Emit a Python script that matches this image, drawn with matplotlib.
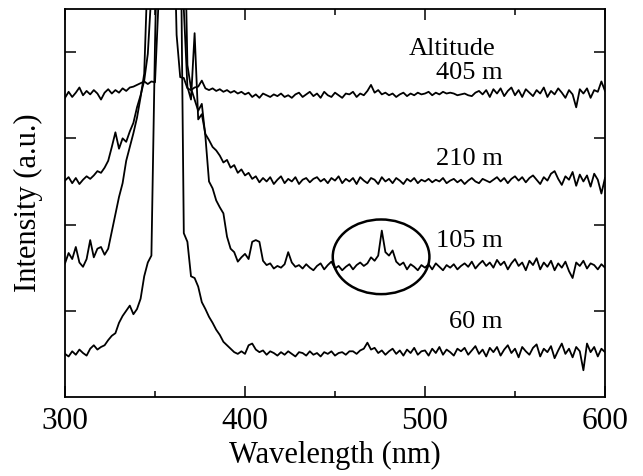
import numpy as np
import matplotlib
matplotlib.use("Agg")
import matplotlib.pyplot as plt
from matplotlib.patches import Ellipse

plt.rcParams['font.family'] = ['Liberation Serif', 'DejaVu Serif']

# wavelength grid, nm (2 nm step)
wavelength = np.arange(300, 601, 2)

# spectra above their own baseline, a.u. (values > top of axes are saturated)
alt_60m = [
    0.00, -0.03, 0.03, -0.01, 0.05, 0.01, -0.02, 0.06, 0.10, 0.05,
    0.08, 0.10, 0.16, 0.21, 0.24, 0.36, 0.44, 0.50, 0.56, 0.46,
    0.52, 0.64, 0.90, 1.06, 1.14, 3.60, 5.50, 5.50, 5.50, 5.50,
    5.50, 5.50, 5.50, 1.40, 1.30, 0.90, 0.88, 0.78, 0.60, 0.52,
    0.43, 0.36, 0.28, 0.22, 0.14, 0.10, 0.06, 0.02, 0.00, 0.03,
    0.00, 0.10, 0.12, 0.05, 0.02, 0.04, -0.01, 0.03, 0.01, -0.02,
    0.02, -0.01, 0.03, 0.00, -0.03, 0.02, 0.01, -0.02, 0.03, -0.01,
    0.01, -0.03, 0.02, 0.00, 0.03, -0.02, 0.01, 0.02, -0.01, 0.03,
    0.03, 0.00, 0.04, 0.06, 0.13, 0.05, 0.07, 0.01, 0.04, -0.01,
    0.03, 0.06, 0.00, 0.04, -0.02, 0.05, 0.01, 0.07, -0.01, 0.03,
    0.04, -0.02, 0.06, 0.01, 0.08, -0.01, 0.05, 0.02, -0.02, 0.06,
    0.03, 0.07, -0.01, 0.04, 0.09, 0.00, 0.05, -0.03, 0.07, 0.02,
    0.08, -0.02, 0.05, 0.10, 0.01, 0.06, -0.04, 0.08, 0.03, -0.01,
    0.07, 0.11, -0.03, 0.06, 0.02, 0.09, -0.05, 0.04, 0.12, 0.00,
    0.06, -0.04, 0.08, 0.03, -0.19, 0.12, 0.02, 0.08, -0.03, 0.06,
    0.02,
]

alt_105m = [
    0.05, 0.17, 0.10, 0.24, 0.06, 0.01, 0.10, 0.32, 0.12, 0.22,
    0.24, 0.15, 0.22, 0.42, 0.62, 0.82, 0.98, 1.24, 1.40, 1.56,
    1.74, 1.98, 2.25, 3.50, 4.50, 4.50, 4.50, 4.50, 4.50, 4.50,
    4.50, 4.50, 4.50, 4.50, 2.35, 2.08, 1.95, 1.82, 1.90, 1.52,
    1.00, 0.92, 0.78, 0.70, 0.63, 0.36, 0.22, 0.18, 0.07, 0.12,
    0.16, 0.10, 0.30, 0.32, 0.30, 0.08, 0.03, 0.05, -0.01, 0.02,
    0.00, 0.04, 0.18, 0.06, 0.01, 0.03, -0.01, 0.04, 0.00, -0.03,
    0.02, 0.05, -0.02, 0.03, 0.07, -0.01, 0.02, -0.03, 0.01, 0.04,
    -0.02, 0.03, 0.06, 0.02, 0.05, 0.12, 0.08, 0.14, 0.43, 0.18,
    0.14, 0.20, 0.07, 0.03, 0.06, -0.02, 0.04, 0.01, -0.03, 0.03,
    0.00, 0.04, -0.02, 0.05, 0.01, -0.03, 0.03, 0.00, 0.04, -0.02,
    0.02, 0.05, 0.01, 0.07, -0.01, 0.04, 0.08, 0.02, 0.06, 0.00,
    0.09, 0.03, 0.07, -0.02, 0.05, 0.10, 0.02, 0.06, -0.03, 0.08,
    0.03, 0.11, -0.02, 0.06, 0.01, 0.08, -0.03, 0.05, 0.00, 0.07,
    -0.04, -0.12, 0.06, 0.02, 0.08, -0.01, 0.05, 0.03, -0.02, 0.04,
    0.00,
]

alt_210m = [
    0.01, 0.05, -0.02, 0.04, -0.03, 0.02, 0.06, 0.03, 0.07, 0.12,
    0.10, 0.16, 0.24, 0.40, 0.57, 0.38, 0.50, 0.46, 0.58, 0.68,
    0.86, 1.00, 1.17, 1.48, 2.20, 3.50, 3.50, 3.50, 3.50, 3.50,
    3.50, 3.50, 3.50, 2.00, 1.10, 0.95, 1.72, 0.72, 0.78, 0.55,
    0.48, 0.40, 0.36, 0.30, 0.22, 0.25, 0.16, 0.19, 0.10, 0.14,
    0.07, 0.10, 0.03, 0.06, -0.01, 0.04, 0.00, 0.05, -0.03, 0.02,
    0.06, -0.02, 0.03, 0.00, 0.05, -0.03, 0.02, 0.04, -0.01, 0.03,
    0.05, 0.00, 0.03, -0.02, 0.04, 0.01, 0.06, -0.02, 0.03, 0.00,
    0.04, -0.03, 0.05, 0.01, -0.02, 0.04, 0.02, -0.03, 0.05, 0.00,
    0.03, -0.02, 0.04, 0.01, -0.03, 0.03, 0.00, 0.04, -0.02, 0.02,
    0.00, 0.03, -0.01, 0.02, 0.00, 0.04, -0.02, 0.01, 0.03, -0.01,
    0.02, -0.03, 0.01, 0.04, 0.00, -0.02, 0.03, 0.01, -0.01, 0.02,
    0.05, 0.00, 0.04, -0.02, 0.03, 0.06, 0.01, 0.05, -0.01, 0.04,
    0.07, 0.02, -0.03, 0.05, 0.01, 0.09, 0.12, 0.03, -0.04, 0.06,
    0.02, 0.11, -0.05, 0.08, 0.00, 0.07, -0.06, 0.09, 0.02, -0.14,
    0.04,
]

alt_405m = [
    -0.03, 0.04, -0.02, 0.03, 0.09, 0.00, 0.05, 0.01, 0.06, 0.02,
    -0.05, 0.03, 0.07, 0.02, 0.06, 0.03, 0.08, 0.05, 0.09, 0.10,
    0.12, 0.14, 0.16, 0.13, 0.16, 0.15, 1.10, 2.50, 2.50, 2.50,
    2.50, 0.70, 0.21, 0.20, 0.08, 0.06, 0.09, 0.10, 0.17, 0.08,
    0.06, 0.08, 0.05, 0.07, 0.04, 0.06, 0.03, 0.05, 0.02, 0.04,
    0.01, 0.03, -0.02, 0.01, -0.03, 0.02, 0.00, -0.02, 0.01, -0.01,
    0.02, -0.02, 0.00, -0.03, 0.01, 0.03, -0.02, 0.01, 0.04, -0.01,
    0.02, -0.03, 0.04, 0.00, -0.02, 0.03, 0.00, -0.03, 0.02, 0.01,
    0.04, -0.02, 0.02, 0.00, 0.05, 0.12, 0.03, 0.06, 0.01, 0.03,
    0.00, 0.02, -0.02, 0.01, 0.03, -0.01, 0.02, 0.00, 0.03, 0.01,
    0.02, 0.04, 0.00, 0.03, 0.01, 0.04, 0.02, 0.03, 0.02, 0.00,
    0.01, 0.02, 0.00, -0.01, 0.03, 0.05, 0.01, 0.06, -0.02, 0.07,
    0.02, 0.08, -0.01, 0.05, 0.09, 0.00, 0.06, -0.02, 0.07, 0.03,
    -0.01, 0.06, 0.02, 0.09, -0.02, 0.05, 0.01, 0.08, 0.03, -0.03,
    0.06, 0.01, -0.14, 0.07, 0.02, 0.08, -0.03, 0.06, 0.04, 0.16,
    0.05,
]

spectra = [alt_60m, alt_105m, alt_210m, alt_405m]
altitude_labels = ['60 m', '105 m', '210 m', '405 m']
baselines = [0.5, 1.5, 2.5, 3.5]
label_y = [0.80, 1.74, 2.69, 3.69]

fig = plt.figure(figsize=(6.43, 4.76), dpi=100)
ax = fig.add_axes([0.1011, 0.166, 0.8398, 0.815])

for spec, base in zip(spectra, baselines):
    ax.plot(wavelength, np.array(spec) + base, color='black', lw=1.3)

for text, y in zip(altitude_labels, label_y):
    ax.text(543, y, text, ha='right', va='baseline', fontsize=19)
ax.text(539, 3.97, 'Altitude', ha='right', va='baseline', fontsize=19)

# mark the weak line near 476 nm in the 105 m spectrum
ax.add_patch(Ellipse((475.6, 1.626), 53.7, 0.866, fill=False, ec='black', lw=1.8))

ax.set_xlim(300, 600)
ax.set_ylim(0, 4.5)
ax.set_xticks([300, 400, 500, 600])
ax.set_xticks([350, 450, 550], minor=True)
ax.set_yticks([1, 2, 3, 4])
ax.set_yticklabels([])
ax.tick_params(which='both', direction='in', top=True, right=True, width=1.1,
               labelsize=22.5, pad=7)
ax.tick_params(which='major', length=8)
ax.tick_params(which='minor', length=4.5)
for sp in ax.spines.values():
    sp.set_linewidth(1.3)

ax.set_xlabel('Wavelength (nm)', fontsize=22)
ax.set_ylabel('Intensity (a.u.)', fontsize=22, labelpad=9)

fig.savefig('out.png', dpi=100)
